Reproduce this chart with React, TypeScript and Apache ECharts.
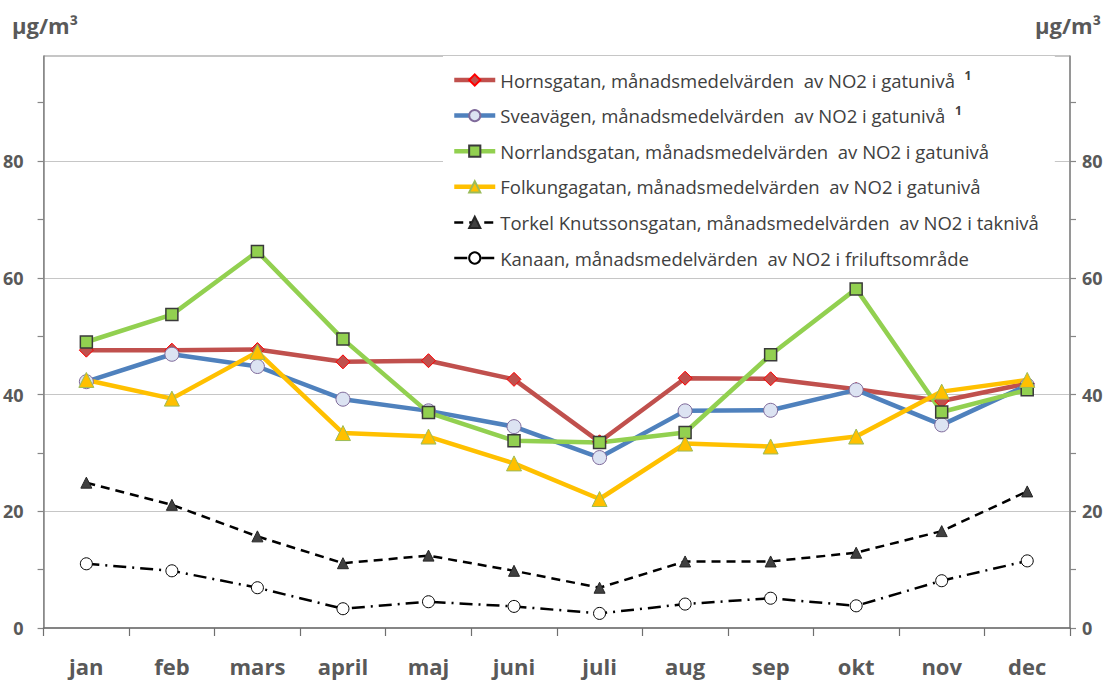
import React, { useEffect, useRef } from "react";
import * as echarts from "echarts";

const months = ["jan", "feb", "mars", "april", "maj", "juni", "juli", "aug", "sep", "okt", "nov", "dec"];
const hornsgatan = [47.6, 47.6, 47.7, 45.6, 45.8, 42.6, 31.9, 42.8, 42.7, 40.9, 38.9, 41.9];
const sveavagen = [42.2, 46.9, 44.8, 39.2, 37.2, 34.5, 29.2, 37.2, 37.3, 40.8, 34.8, 41.6];
const norrlandsgatan = [49.0, 53.7, 64.5, 49.5, 36.9, 32.1, 31.8, 33.5, 46.8, 58.1, 37.0, 40.8];
const folkungagatan = [42.5, 39.3, 47.3, 33.4, 32.8, 28.2, 22.1, 31.6, 31.1, 32.8, 40.5, 42.5];
const torkel = [24.9, 21.1, 15.7, 11.1, 12.4, 9.8, 6.9, 11.4, 11.4, 12.9, 16.6, 23.4];
const kanaan = [11.0, 9.8, 6.9, 3.3, 4.5, 3.7, 2.5, 4.1, 5.1, 3.8, 8.1, 11.5];

const seriesNames = [
  "Hornsgatan, månadsmedelvärden  av NO2 i gatunivå",
  "Sveavägen, månadsmedelvärden  av NO2 i gatunivå",
  "Norrlandsgatan, månadsmedelvärden  av NO2 i gatunivå",
  "Folkungagatan, månadsmedelvärden  av NO2 i gatunivå",
  "Torkel Knutssonsgatan, månadsmedelvärden  av NO2 i taknivå",
  "Kanaan, månadsmedelvärden  av NO2 i friluftsområde",
];
const footnoted = [seriesNames[0], seriesNames[1]];

const tickValues = [0, 10, 20, 30, 40, 50, 60, 70, 80, 90];
const labelValues = [0, 20, 40, 60, 80];
const unitLabel = "µg/m³";

const FONT = "'Open Sans', 'Noto Sans', sans-serif";
const GRAY = "#595959";
const AXIS = "#868686";

export default function App() {
  const ref = useRef<HTMLDivElement>(null);

  useEffect(() => {
    if (!ref.current) return;
    const chart = echarts.init(ref.current, undefined, { renderer: "svg" });

    const sideAxis = (position: "left" | "right") => ({
      type: "value",
      position,
      min: 0,
      max: 98,
      interval: 20,
      axisLine: { show: true, onZero: false, lineStyle: { color: AXIS, width: 1.5 } },
      axisTick: { show: true, inside: false, length: 6, customValues: tickValues, lineStyle: { color: AXIS, width: 1.2 } },
      axisLabel: {
        customValues: labelValues,
        margin: position === "left" ? 20 : 12,
        color: GRAY,
        fontFamily: FONT,
        fontSize: 18,
        fontWeight: "bold",
      },
      splitLine: { show: false },
    });

    const legendLine = [4.5, 4.5, 4.5, 4.5, 2.5, 2.5];

    chart.setOption({
      animation: false,
      backgroundColor: "#ffffff",
      textStyle: { fontFamily: FONT },
      grid: {
        left: 43,
        right: 45,
        top: 56,
        bottom: 52,
        show: true,
        borderColor: "#8c8c8c",
        borderWidth: 1,
        backgroundColor: "transparent",
      },
      graphic: [
        {
          type: "text",
          left: 12,
          top: 14,
          style: { text: unitLabel, fill: GRAY, font: `bold 22px ${FONT}` },
        },
        {
          type: "text",
          left: 1035,
          top: 14,
          style: { text: unitLabel, fill: GRAY, font: `bold 22px ${FONT}` },
        },
      ],
      legend: {
        orient: "vertical",
        left: 443,
        top: 56,
        padding: [12.5, 16, 6, 9],
        backgroundColor: "#ffffff",
        itemWidth: 41,
        itemHeight: 14,
        itemGap: 12.6,
        data: seriesNames.map((n, i) => ({ name: n, lineStyle: { width: legendLine[i] } })),
        formatter: (name: string) => (footnoted.includes(name) ? `${name}  {sup|1}` : name),
        textStyle: {
          color: "#404040",
          fontFamily: FONT,
          fontSize: 18.5,
          lineHeight: 23,
          rich: {
            sup: { fontSize: 12, fontWeight: "bold", color: "#404040", fontFamily: FONT, padding: [0, 0, 10, 0] },
          },
        },
      },
      xAxis: {
        type: "category",
        data: months,
        boundaryGap: true,
        axisLine: { show: true, lineStyle: { color: "#6f6f6f", width: 1.5 } },
        axisTick: { show: true, inside: false, length: 8, alignWithLabel: false, lineStyle: { color: "#6f6f6f", width: 1.2 } },
        axisLabel: { color: GRAY, fontFamily: FONT, fontSize: 22, fontWeight: "bold", margin: 27 },
        splitLine: { show: false },
      },
      yAxis: [
        sideAxis("left"),
        sideAxis("right"),
        {
          type: "value",
          position: "left",
          min: 0,
          max: 98,
          interval: 20,
          axisLine: { show: false },
          axisTick: { show: false },
          axisLabel: { show: false },
          splitLine: { show: true, lineStyle: { color: "#c6c6c6", width: 1.2 } },
        },
      ],
      series: [
        {
          name: seriesNames[0],
          type: "line",
          data: hornsgatan,
          yAxisIndex: 0,
          lineStyle: { color: "#C0504D", width: 4.5 },
          itemStyle: { color: "#C0504D", borderColor: "#FF0000", borderWidth: 1 },
          symbol: "diamond",
          symbolSize: 14,
        },
        {
          name: seriesNames[1],
          type: "line",
          data: sveavagen,
          yAxisIndex: 0,
          lineStyle: { color: "#4F81BD", width: 4.5 },
          itemStyle: { color: "#DCE3F2", borderColor: "#7F6A9A", borderWidth: 1 },
          symbol: "circle",
          symbolSize: 14,
        },
        {
          name: seriesNames[2],
          type: "line",
          data: norrlandsgatan,
          yAxisIndex: 0,
          lineStyle: { color: "#92D050", width: 4.5 },
          itemStyle: { color: "#92D050", borderColor: "#3a3a3a", borderWidth: 1.5 },
          symbol: "rect",
          symbolSize: 12,
        },
        {
          name: seriesNames[3],
          type: "line",
          data: folkungagatan,
          yAxisIndex: 0,
          lineStyle: { color: "#FFC000", width: 4.5 },
          itemStyle: { color: "#FFC000", borderColor: "#9BBB59", borderWidth: 1 },
          symbol: "triangle",
          symbolSize: 15,
        },
        {
          name: seriesNames[4],
          type: "line",
          data: torkel,
          yAxisIndex: 0,
          lineStyle: { color: "#000000", width: 2.5, type: [9, 6] },
          itemStyle: { color: "#404040", borderColor: "#262626", borderWidth: 1 },
          symbol: "triangle",
          symbolSize: 11,
        },
        {
          name: seriesNames[5],
          type: "line",
          data: kanaan,
          yAxisIndex: 0,
          lineStyle: { color: "#000000", width: 2.5, type: [13, 6, 2, 6] },
          itemStyle: { color: "#ffffff", borderColor: "#000000", borderWidth: 1 },
          symbol: "circle",
          symbolSize: 12,
        },
      ],
    });

    return () => chart.dispose();
  }, []);

  return (
    <div
      ref={ref}
      style={{ position: "fixed", left: 0, top: 0, width: 1115, height: 680, background: "#fff" }}
    />
  );
}
